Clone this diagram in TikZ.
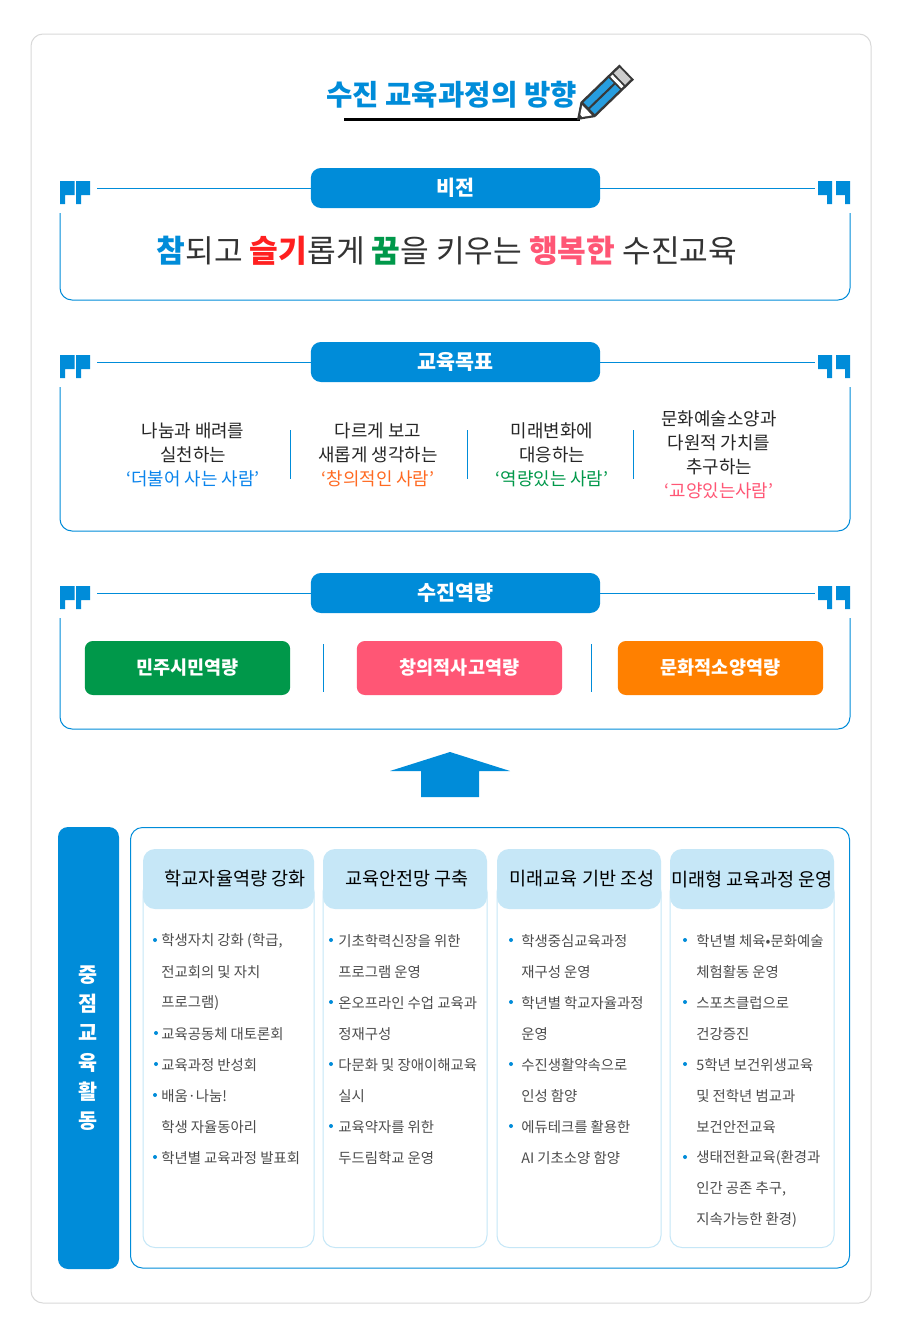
\documentclass[tikz,border=0pt]{standalone}
\usepackage{fontspec}
\setmainfont{Noto Sans CJK KR}
\usetikzlibrary{calc}
\definecolor{sjblue}{HTML}{008CD9}
\definecolor{sjpale}{HTML}{C6E7F7}
\definecolor{sjsky}{HTML}{0A84EC}
\definecolor{sjred}{HTML}{FF2020}
\definecolor{sjgreen}{HTML}{00984A}
\definecolor{sjpink}{HTML}{FF5675}
\definecolor{sjorange}{HTML}{FF8000}
\definecolor{sjcoral}{HTML}{FF6A22}
\definecolor{sjtext}{HTML}{333333}
\tikzset{x=0.75pt,y=-0.75pt,
  frame/.style={draw=sjblue,line width=0.75pt,rounded corners=9pt},
  band/.style={fill=sjblue,text=white,rounded corners=7.5pt,minimum width=217pt,minimum height=30pt,inner sep=0pt,font=\fontsize{15.5pt}{15pt}\selectfont\bfseries},
  chip/.style={text=white,rounded corners=6pt,minimum width=154pt,minimum height=40.5pt,inner sep=0pt,font=\fontsize{13.9pt}{15pt}\selectfont\bfseries},
  goal/.style={align=center,text=black!85,font=\fontsize{13.4pt}{18pt}\selectfont},
  head/.style={fill=sjpale,rounded corners=9pt,minimum width=123pt,minimum height=45pt,inner sep=0pt,text=black,font=\fontsize{13.9pt}{15pt}\selectfont},
  item/.style={anchor=west,inner sep=0pt,yshift=-0.75pt,text=black!70,font=\fontsize{10.8pt}{12pt}\selectfont},
  dotmark/.style={fill=sjblue,draw=none}
}
% quote pairs
\newcommand{\quoteleft}[1]{%
  \fill[sjblue,shift={(#1)}] (0,0) rectangle (14.5,14) (0,14) rectangle (5,23) (16,0) rectangle (30,14) (16,14) rectangle (21,23);}
\newcommand{\quoteright}[1]{%
  \fill[sjblue,shift={(#1)}] (0,0) rectangle (14,14) (9,14) rectangle (14,23) (18,0) rectangle (32,14) (27,14) rectangle (32,23);}
% section: top y of band, label, name
\newcommand{\sjsection}[3]{%
  \node[band] (#3) at (455.5,#1+20) {\raisebox{-0.75pt}{#2}};
  \coordinate (ll#3) at (97,#1+20);
  \coordinate (rr#3) at (815,#1+20);
  \draw[sjblue,line width=0.75pt] (ll#3) -- (#3) -- (rr#3);
  \quoteleft{60,#1+13}
  \quoteright{818,#1+13}
}
\newcommand{\openframe}[2]{%
  \draw[frame] (60,#1) -- (60,#2) -- (850,#2) -- (850,#1);
}
\newcommand{\bitem}[5]{%
  \fill[dotmark] (#2,#4) circle (2);
  \node[item] (#1) at (#3,#4) {#5};
}
\newcommand{\citem}[4]{%
  \node[item] (#1) at (#2,#3) {#4};
}
\begin{document}
\begin{tikzpicture}
\useasboundingbox (0,0) rectangle (900,1335);
\fill[white] (0,0) rectangle (900,1335);
\draw[black!15,line width=0.75pt,rounded corners=9pt] (31,34) rectangle (871,1303);

%%%%% title
\node[text=sjblue,font=\fontsize{21.5pt}{24pt}\selectfont\bfseries] (title) at (451.5,94.5) {수진 교육과정의 방향};
\draw[black,line width=2pt] (344,119.5) -- (580,119.5);
\begin{scope}[shift={(577,120)},rotate=44]
  \fill[black!78] (0,0) -- (15,-10.5) -- (69,-10.5) -- (69,10.5) -- (15,10.5) -- cycle;
  \fill[white] (6,-1.5) -- (14,-7) -- (14,7) -- (6,1.5) -- cycle;
  \fill[sjblue!85] (17,-8) rectangle (52,-1.2);
  \fill[sjblue!85] (17,1.2) rectangle (52,8);
  \fill[white] (54,-8) rectangle (57,8);
  \fill[black!20] (59,-8) rectangle (67,8);
\end{scope}

%%%%% vision
\sjsection{168}{비전}{vision}
\openframe{213}{300}
\node[font=\fontsize{23.4pt}{26pt}\selectfont,text=sjtext] (visiontext) at (447,251) {{\bfseries\color{sjblue}참}되고 {\bfseries\color{sjred}슬기}롭게 {\bfseries\color{sjgreen}꿈}을 키우는 {\bfseries\color{sjpink}행복한} 수진교육};

%%%%% goals
\sjsection{342}{교육목표}{goal}
\openframe{387}{531}
\node[goal] (goala) at (193,454.5) {나눔과 배려를\\실천하는\\{\color{sjsky}‘더불어 사는 사람’}};
\node[goal] (goalb) at (378,454.5) {다르게 보고\\새롭게 생각하는\\{\color{sjcoral}‘창의적인 사람’}};
\node[goal] (goalc) at (552,454.5) {미래변화에\\대응하는\\{\color{sjgreen}‘역량있는 사람’}};
\node[goal] (goald) at (719,454.5) {문화예술소양과\\다원적 가치를\\추구하는\\{\color{sjpink}‘교양있는사람’}};
\draw[sjblue,line width=0.6pt] (290.5,430) -- (290.5,479) (467.5,430) -- (467.5,479) (633.5,430) -- (633.5,479);

%%%%% competency
\sjsection{573}{수진역량}{comp}
\openframe{618}{729}
\node[chip,fill=sjgreen] (compa) at (187.5,668) {민주시민역량};
\node[chip,fill=sjpink] (compb) at (459.5,668) {창의적사고역량};
\node[chip,fill=sjorange] (compc) at (720.5,668) {문화적소양역량};
\draw[sjblue,line width=0.6pt] (323.5,644) -- (323.5,692) (591.5,644) -- (591.5,692);

%%%%% arrow
\fill[sjblue] (390,771) -- (450,752) -- (510,771) -- (479,771) -- (479,797) -- (421,797) -- (421,771) -- cycle;

%%%%% activities
\node[fill=sjblue,rounded corners=7.5pt,minimum width=45.75pt,minimum height=331.5pt,inner sep=0pt,text=white,align=center,font=\fontsize{15.5pt}{22pt}\selectfont\bfseries] (act) at (88.5,1048) {중\\점\\교\\육\\활\\동};
\draw[frame] (130.5,827.5) rectangle (849.5,1268);

\foreach \x/\w in {143/171,323/164,497/164,670/164}{
  \draw[sjpale,line width=0.75pt,rounded corners=9pt] (\x,880) rectangle (\x+\w,1247.5);
}
\node[head,minimum width=128.25pt] (heada) at (228.5,879) {\raisebox{-0.75pt}{\hspace{10pt}학교자율역량 강화}};
\node[head] (headb) at (405,879) {\raisebox{-0.75pt}{\hspace{3pt}교육안전망 구축}};
\node[head] (headc) at (579,879) {\raisebox{-0.75pt}{\hspace{4.5pt}미래교육 기반 조성}};
\node[head] (headd) at (752,879) {\raisebox{-0.75pt}{미래형 교육과정 운영}};

\bitem{aa}{155}{161}{940}{학생자치 강화 (학급,}
\citem{ab}{161}{971}{전교회의 및 자치}
\citem{ac}{161}{1002}{프로그램)}
\bitem{ad}{156}{161}{1033}{교육공동체 대토론회}
\bitem{ae}{156}{161}{1064}{교육과정 반성회}
\bitem{af}{155}{161}{1095}{배움·나눔!}
\citem{ag}{161}{1126}{학생 자율동아리}
\bitem{ah}{155}{161}{1157}{학년별 교육과정 발표회}

\bitem{ba}{331}{338}{940}{기초학력신장을 위한}
\citem{bb}{338}{971}{프로그램 운영}
\bitem{bc}{331}{338}{1002}{온오프라인 수업 교육과}
\citem{bd}{338}{1033}{정재구성}
\bitem{be}{331}{338}{1064}{다문화 및 장애이해교육}
\citem{bf}{338}{1095}{실시}
\bitem{bg}{331}{338}{1126}{교육약자를 위한}
\citem{bh}{338}{1157}{두드림학교 운영}

\bitem{ca}{511}{521}{940}{학생중심교육과정}
\citem{cb}{521}{971}{재구성 운영}
\bitem{cc}{511}{521}{1002}{학년별 학교자율과정}
\citem{cd}{521}{1033}{운영}
\bitem{ce}{511}{521}{1064}{수진생활약속으로}
\citem{cf}{521}{1095}{인성 함양}
\bitem{cg}{511}{521}{1126}{에듀테크를 활용한}
\citem{ch}{521}{1157}{AI 기초소양 함양}

\bitem{da}{685}{696}{940}{학년별 체육•문화예술}
\citem{db}{696}{971}{체험활동 운영}
\bitem{dc}{685}{696}{1002}{스포츠클럽으로}
\citem{dd}{696}{1033}{건강증진}
\bitem{de}{685}{696}{1064}{5학년 보건위생교육}
\citem{df}{696}{1095}{및 전학년 범교과}
\citem{dg}{696}{1126}{보건안전교육}
\bitem{dh}{685}{696}{1157}{생태전환교육(환경과}
\citem{di}{696}{1188}{인간 공존 추구,}
\citem{dj}{696}{1219}{지속가능한 환경)}
\end{tikzpicture}
\end{document}
